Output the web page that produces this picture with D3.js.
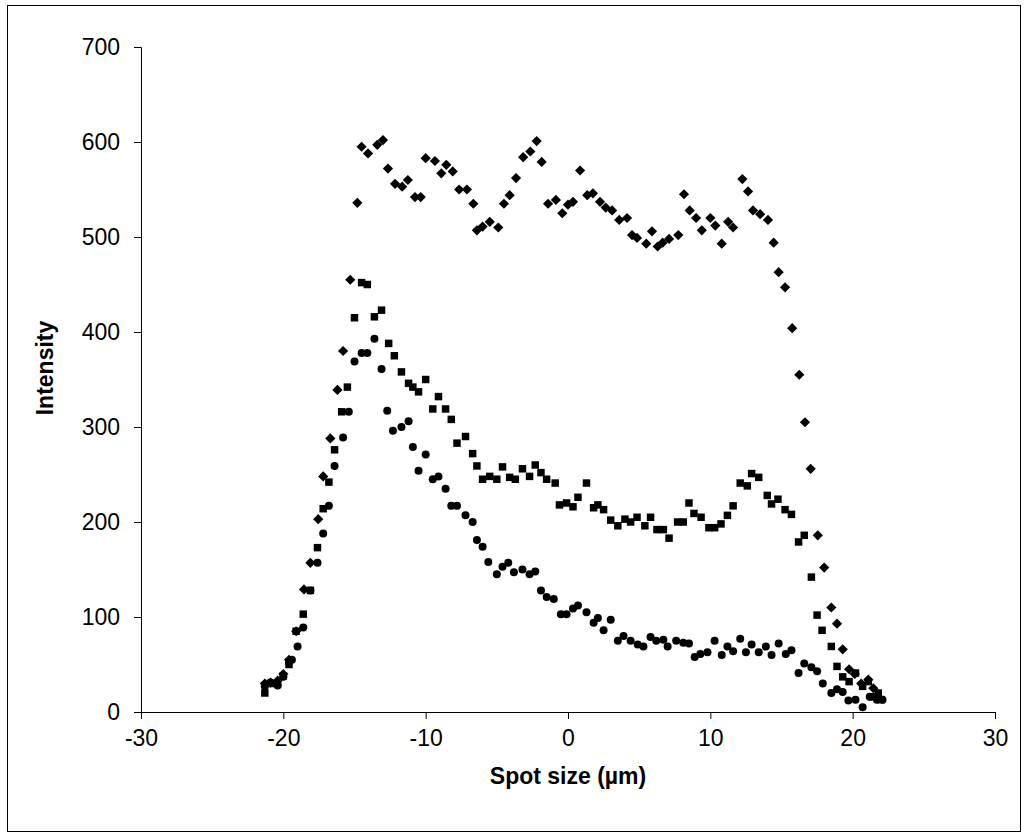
<!DOCTYPE html>
<html>
<head>
<meta charset="utf-8">
<script src="https://cdn.jsdelivr.net/npm/d3@7.9.0/dist/d3.min.js"></script>
<style>
  html, body { margin: 0; padding: 0; background: #fff; }
  svg { display: block; }
  .tick text { font-family: "Liberation Sans", Arial, sans-serif; font-size: 23px; fill: #000; }
  .axis-title { font-family: "Liberation Sans", Arial, sans-serif; font-size: 23px; font-weight: bold; fill: #000; }
</style>
</head>
<body>
<svg id="chart" width="1028" height="838"></svg>
<script>
// axis ticks
const xTicks = [-30, -20, -10, 0, 10, 20, 30];
const yTicks = [0, 100, 200, 300, 400, 500, 600, 700];

// diamonds (top profile)
const diamondX = [-21.3,-20.9,-20.4,-20.0,-19.6,-19.1,-18.55,-18.1,-17.55,-17.2,-16.7,-16.2,-15.8,-15.3,-14.8,
  -14.5,-14.05,-13.4,-13.0,-12.65,-12.15,-11.65,-11.25,-10.75,-10.35,-10.0,-9.35,-8.9,-8.55,-8.1,
  -7.65,-7.1,-6.65,-6.4,-6.0,-5.5,-4.9,-4.5,-4.1,-3.65,-3.15,-2.65,-2.2,-1.85,-1.4,
  -0.85,-0.4,0,0.35,0.85,1.35,1.75,2.25,2.65,3.1,3.6,4.15,4.5,4.85,5.5,
  5.9,6.3,6.65,7.1,7.75,8.15,8.55,9.0,9.4,10.0,10.35,10.8,11.25,11.6,12.25,
  12.65,13.0,13.5,14.05,14.45,14.8,15.25,15.75,16.25,16.65,17.05,17.55,18.0,18.5,18.9,
  19.3,19.75,20.15,20.6,21.1,21.45,21.8];
const diamondY = [30,31,33,40,55,85,129,157,203,248,288,339,380,455,536,
  595,588,597,602,572,556,553,560,542,542,583,580,567,576,569,
  550,550,535,507,511,516,510,535,544,562,584,590,601,579,535,
  539,525,534,537,570,544,546,537,531,528,518,520,502,499,493,
  506,490,494,498,502,545,528,520,507,520,512,493,516,510,561,
  548,528,524,518,494,463,447,404,355,305,256,186,152,110,93,
  66,45,40,30,34,25,15];

// squares (middle profile)
const squareX = [-21.3,-20.9,-20.4,-20.0,-19.6,-19.1,-18.6,-18.1,-17.6,-17.2,-16.8,-16.4,-15.9,-15.5,-15.0,
  -14.5,-14.1,-13.6,-13.1,-12.6,-12.2,-11.7,-11.2,-10.9,-10.5,-10.0,-9.5,-9.1,-8.6,-8.2,
  -7.8,-7.2,-6.7,-6.4,-6.0,-5.5,-5.0,-4.6,-4.1,-3.7,-3.2,-2.7,-2.3,-1.9,-1.5,
  -0.9,-0.6,-0.1,0.35,0.7,1.3,1.8,2.1,2.5,3.0,3.5,4.0,4.4,4.85,5.4,
  5.8,6.25,6.7,7.1,7.7,8.1,8.5,8.85,9.35,9.9,10.3,10.75,11.2,11.6,12.1,
  12.6,12.9,13.4,14.0,14.3,14.75,15.25,15.7,16.2,16.6,17.1,17.5,17.85,18.5,18.9,
  19.3,19.75,20.2,20.7,21.1,21.4,21.8,22.0];
const squareY = [20,30,30,38,50,85,103,128,173,214,242,276,316,342,415,
  452,450,416,423,388,375,358,346,342,337,350,319,332,319,308,
  283,290,272,259,245,248,245,258,247,245,256,248,260,252,245,
  241,218,220,216,226,241,215,218,213,202,196,203,200,205,196,
  205,192,192,183,200,200,220,209,205,194,194,198,207,217,241,
  238,251,247,228,219,224,213,208,179,186,142,102,86,69,48,
  37,32,41,27,32,16,20,13];

// circles (lower profile)
const circleX = [-21.3,-20.9,-20.4,-20.0,-19.6,-19.4,-19.0,-18.6,-18.1,-17.6,-17.2,-16.8,-16.4,-15.8,-15.4,
  -15.0,-14.5,-14.1,-13.6,-13.1,-12.7,-12.3,-11.7,-11.2,-10.9,-10.5,-10.0,-9.5,-9.1,-8.6,
  -8.2,-7.8,-7.2,-6.7,-6.4,-6.0,-5.6,-5.0,-4.6,-4.2,-3.8,-3.2,-2.7,-2.3,-1.9,
  -1.5,-1.0,-0.5,-0.1,0.35,0.7,1.3,1.8,2.1,2.5,3.0,3.5,3.9,4.4,4.9,
  5.3,5.8,6.2,6.7,7.0,7.6,8.1,8.5,8.9,9.3,9.8,10.3,10.8,11.2,11.6,
  12.1,12.5,12.9,13.4,13.9,14.3,14.8,15.3,15.7,16.2,16.6,17.1,17.5,17.9,18.5,
  18.9,19.3,19.7,20.2,20.7,21.2,21.7,22.1];
const circleY = [27,31,28,37,52,55,69,89,128,157,188,217,259,289,316,
  369,378,378,393,361,317,296,300,306,279,254,271,245,248,235,
  217,217,207,200,181,174,158,145,153,157,147,150,145,148,128,
  121,119,103,103,109,112,105,94,99,86,97,75,80,75,71,
  69,79,75,76,69,75,73,72,58,61,63,75,60,69,64,
  77,63,71,63,69,60,72,61,65,41,51,47,43,30,20,
  24,21,12,13,5,16,13,13];

const svg = d3.select("#chart");

// outer frame
svg.append("rect")
  .attr("x", 7.5).attr("y", 5.5)
  .attr("width", 1013).attr("height", 826)
  .attr("fill", "none").attr("stroke", "#000").attr("stroke-width", 1);

const x = d3.scaleLinear().domain([-30, 30]).range([141, 995]);
const y = d3.scaleLinear().domain([0, 700]).range([712, 47]);

// axes (hyphen minus like the original, not the unicode minus)
svg.append("g")
  .attr("transform", "translate(0,712)")
  .call(d3.axisBottom(x).tickValues(xTicks).tickFormat(d => String(d))
    .tickSizeOuter(0).tickSize(7).tickPadding(11))
  .call(g => g.selectAll("line, path").attr("stroke", "#000"));

svg.append("g")
  .attr("transform", "translate(141,0)")
  .call(d3.axisLeft(y).tickValues(yTicks).tickFormat(d => String(d))
    .tickSizeOuter(0).tickSize(7).tickPadding(14))
  .call(g => g.selectAll("line, path").attr("stroke", "#000"));

svg.append("text")
  .attr("class", "axis-title")
  .attr("x", 568).attr("y", 784)
  .attr("text-anchor", "middle")
  .text("Spot size (µm)");

svg.append("text")
  .attr("class", "axis-title")
  .attr("transform", "translate(53,368) rotate(-90)")
  .attr("text-anchor", "middle")
  .text("Intensity");

// markers
const pts = (xs, ys) => xs.map((v, i) => [v, ys[i]]);

svg.append("g").selectAll("path")
  .data(pts(diamondX, diamondY))
  .join("path")
  .attr("d", d3.symbol(d3.symbolSquare, 52)())
  .attr("transform", d => `translate(${x(d[0])},${y(d[1])}) rotate(45)`)
  .attr("fill", "#000");

svg.append("g").selectAll("path")
  .data(pts(squareX, squareY))
  .join("path")
  .attr("d", d3.symbol(d3.symbolSquare, 56)())
  .attr("transform", d => `translate(${x(d[0])},${y(d[1])})`)
  .attr("fill", "#000");

svg.append("g").selectAll("circle")
  .data(pts(circleX, circleY))
  .join("circle")
  .attr("cx", d => x(d[0]))
  .attr("cy", d => y(d[1]))
  .attr("r", 4)
  .attr("fill", "#000");
</script>
</body>
</html>
